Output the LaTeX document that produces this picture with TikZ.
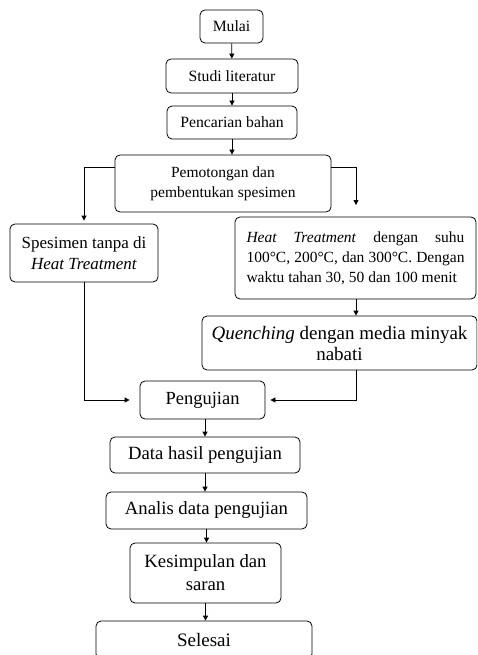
\documentclass[tikz,border=0pt]{standalone}
\usepackage{fontspec}
\setmainfont{Liberation Serif}
\usetikzlibrary{arrows.meta}
\begin{document}
\begin{tikzpicture}[x=1pt,y=-1pt,line width=0.8pt,
	box/.style={draw,shape=rectangle,rounded corners=5pt,inner sep=0pt,align=center,font=\fontsize{#1}{21}\selectfont},
	box/.default=15.7,
	>={Triangle[length=5pt,width=5pt]}]
		
		\useasboundingbox (0,0) rectangle (477,655);
		\clip (0,0) rectangle (477,655);
		
		\node[box,minimum width=63pt,minimum height=33pt] (mula) at (231.5,26.5) {Mulai};
		\node[box,minimum width=132pt,minimum height=34pt] (stud) at (232,76) {Studi literatur};
		\node[box,minimum width=130pt,minimum height=33pt] (penc) at (232,122.5) {Pencarian bahan};
		\node[box,minimum width=216pt,minimum height=57pt,font=\fontsize{15.5}{20}\selectfont] (pemo) at (223,183.5) {Pemotongan dan\\pembentukan spesimen};
		\node[box=17,minimum width=148pt,minimum height=58pt] (spes) at (84,253) {Spesimen tanpa di\\\textit{Heat Treatment}};
		\node[box,minimum width=241pt,minimum height=82pt,text width=218pt,align=justify,font=\fontsize{15.5}{20}\selectfont] (heat) at (355.5,258)
			{\hyphenpenalty=10000\parfillskip=0pt \textit{Heat Treatment} dengan suhu 100°C, 200°C, dan 300°C. Dengan waktu tahan 30, 50 dan 100 menit};
		\node[box=19,minimum width=275pt,minimum height=54pt] (quen) at (339.5,343) {\textit{Quenching} dengan media minyak\\nabati};
		\node[box=18.5,minimum width=125pt,minimum height=38pt] (peng) at (202.5,400) {Pengujian};
		\node[box=18.7,minimum width=190pt,minimum height=36pt] (data) at (205,455) {Data hasil pengujian};
		\node[box=18.7,minimum width=201pt,minimum height=37pt] (anal) at (206.5,510.5) {Analis data pengujian};
		\node[box,minimum width=151pt,minimum height=60pt,font=\fontsize{18.7}{23}\selectfont] (kesi) at (205.5,573) {Kesimpulan dan\\saran};
		\node[box=19,minimum width=216pt,minimum height=38pt] (sele) at (204,640) {Selesai};
		\coordinate (htin) at (356,205);
		
		\draw[->] (mula) -- (stud);
		\draw[->] (stud) -- (penc);
		\draw[->] (penc.south) -- (penc.south |- pemo.north);
		\draw[->,shorten >=3pt] ([yshift=16.5pt]pemo.west) -| (spes.north);
		\draw[->] ([yshift=16.5pt]pemo.east) -| (htin);
		\draw[->] (heat.south -| htin) -- (quen.north -| htin);
		\draw[->,shorten >=5pt] (quen.south -| htin) |- (peng.east);
		\draw[->,shorten >=10pt] (spes.south) |- (peng.west);
		\draw[->] (peng.south -| data.north) -- (data.north);
		\draw[->] (data.south) -- (data.south |- anal.north);
		\draw[->] (anal.south) -- (anal.south |- kesi.north);
		\draw[->] (kesi.south) -- (kesi.south |- sele.north);
		\end{tikzpicture}
\end{document}
